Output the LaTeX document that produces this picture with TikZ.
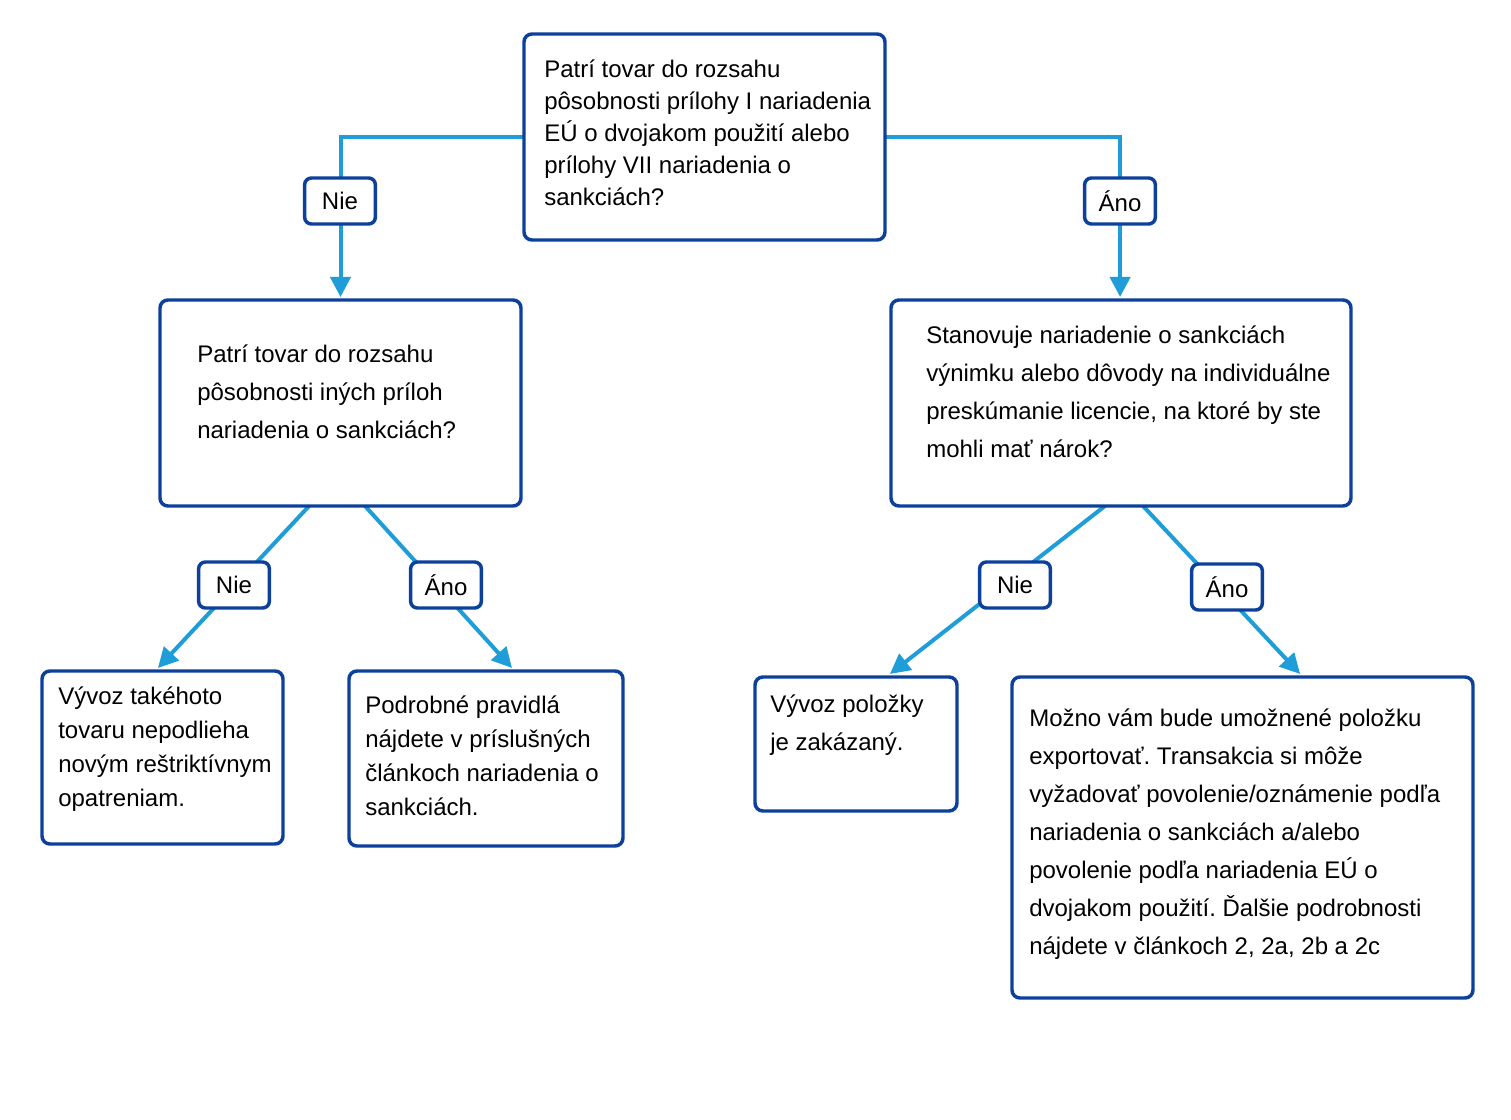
\documentclass[tikz,border=0pt]{standalone}
\usepackage{fontspec}
\setmainfont{Liberation Sans}
\usetikzlibrary{arrows.meta,calc,backgrounds}
\definecolor{dblue}{RGB}{12,64,154}
\definecolor{lblue}{RGB}{30,157,216}
\frenchspacing
\begin{document}
\frenchspacing
\begin{tikzpicture}[x=0.75pt,y=-0.75pt,
  box/.style={draw=dblue,line width=2.6pt,rounded corners=6pt,fill=white,inner sep=0pt,outer sep=0pt,anchor=north west},
  lbl/.style={draw=dblue,line width=2.6pt,rounded corners=5pt,fill=white,inner sep=0pt,
    minimum width=53pt,minimum height=34.5pt,font=\fontsize{18}{20}\selectfont},
  conn/.style={draw=lblue,line width=3pt,-{Triangle[length=15pt,width=15pt]}},
  txtA/.style={anchor=north west,inner sep=0pt,align=left,font=\fontsize{18}{24}\selectfont},
  txtB/.style={anchor=north west,inner sep=0pt,align=left,font=\fontsize{18}{28.5}\selectfont},
  txtC/.style={anchor=north west,inner sep=0pt,align=left,font=\fontsize{18}{25.5}\selectfont}]
\useasboundingbox (0,0) rectangle (1511,1120);
% boxes
\node[box,minimum width=0.75*361pt,minimum height=0.75*206pt] (top) at (524,34) {};
\node[box,minimum width=0.75*361pt,minimum height=0.75*206pt] (lm) at (160,300) {};
\node[box,minimum width=0.75*460pt,minimum height=0.75*206pt] (rm) at (891,300) {};
\node[box,minimum width=0.75*241pt,minimum height=0.75*173pt] (bl1) at (42,671) {};
\node[box,minimum width=0.75*274pt,minimum height=0.75*175pt] (bl2) at (349,671) {};
\node[box,minimum width=0.75*202pt,minimum height=0.75*134pt] (br1) at (755,677) {};
\node[box,minimum width=0.75*461pt,minimum height=0.75*321pt] (br2) at (1012,677) {};
% texts
\node[txtA] (ttop) at (544,53) {\rule{0pt}{18pt}Patrí tovar do rozsahu\\pôsobnosti prílohy I nariadenia\\EÚ o dvojakom použití alebo\\prílohy VII nariadenia o\\sankciách?};
\node[txtB] (tlm) at (197,338) {\rule{0pt}{18pt}Patrí tovar do rozsahu\\pôsobnosti iných príloh\\nariadenia o sankciách?};
\node[txtB] (trm) at (926,319) {\rule{0pt}{18pt}Stanovuje nariadenie o sankciách\\výnimku alebo dôvody na individuálne\\preskúmanie licencie, na ktoré by ste\\mohli mať nárok?};
\node[txtC] (tbl1) at (58,680) {\rule{0pt}{18pt}Vývoz takéhoto\\tovaru nepodlieha\\novým reštriktívnym\\opatreniam.};
\node[txtC] (tbl2) at (365,689) {\rule{0pt}{18pt}Podrobné pravidlá\\nájdete v príslušných\\článkoch nariadenia o\\sankciách.};
\node[txtB] (tbr1) at (770,688) {\rule{0pt}{18pt}Vývoz položky\\je zakázaný.};
\node[txtB] (tbr2) at (1029,702) {\rule{0pt}{18pt}Možno vám bude umožnené položku\\exportovať. Transakcia si môže\\vyžadovať povolenie/oznámenie podľa\\nariadenia o sankciách a/alebo\\povolenie podľa nariadenia EÚ o\\dvojakom použití. Ďalšie podrobnosti\\nájdete v článkoch 2, 2a, 2b a 2c};
% connectors
\begin{scope}[on background layer]
\fill[white] (0,0) rectangle (1511,1120);
\draw[conn] (top.west) -| ($(lm.north west)!0.5!(lm.north east)+(0,-3)$);
\draw[conn] (top.east) -| ($(rm.north west)!0.498!(rm.north east)+(0,-3)$);
\draw[conn] ($(lm.south west)!0.413!(lm.south east)$) -- ($(bl1.north west)!0.481!(bl1.north east)+(0,-3)$);
\draw[conn] ($(lm.south west)!0.568!(lm.south east)$) -- ($(bl2.north west)!0.595!(bl2.north east)+(0,-3)$);
\draw[conn] ($(rm.south west)!0.465!(rm.south east)$) -- ($(br1.north west)!0.668!(br1.north east)+(0,-3)$);
\draw[conn] ($(rm.south west)!0.548!(rm.south east)$) -- ($(br2.north west)!0.625!(br2.north east)+(0,-3)$);
\end{scope}
% labels
\node[lbl] (n1) at (340,201) {Nie};
\node[lbl] (a1) at (1120,201) {Áno};
\node[lbl] (n2) at (234,585) {Nie};
\node[lbl] (a2) at (446,585) {Áno};
\node[lbl] (n3) at (1015,585) {Nie};
\node[lbl] (a3) at (1227,587) {Áno};
\end{tikzpicture}
\end{document}
